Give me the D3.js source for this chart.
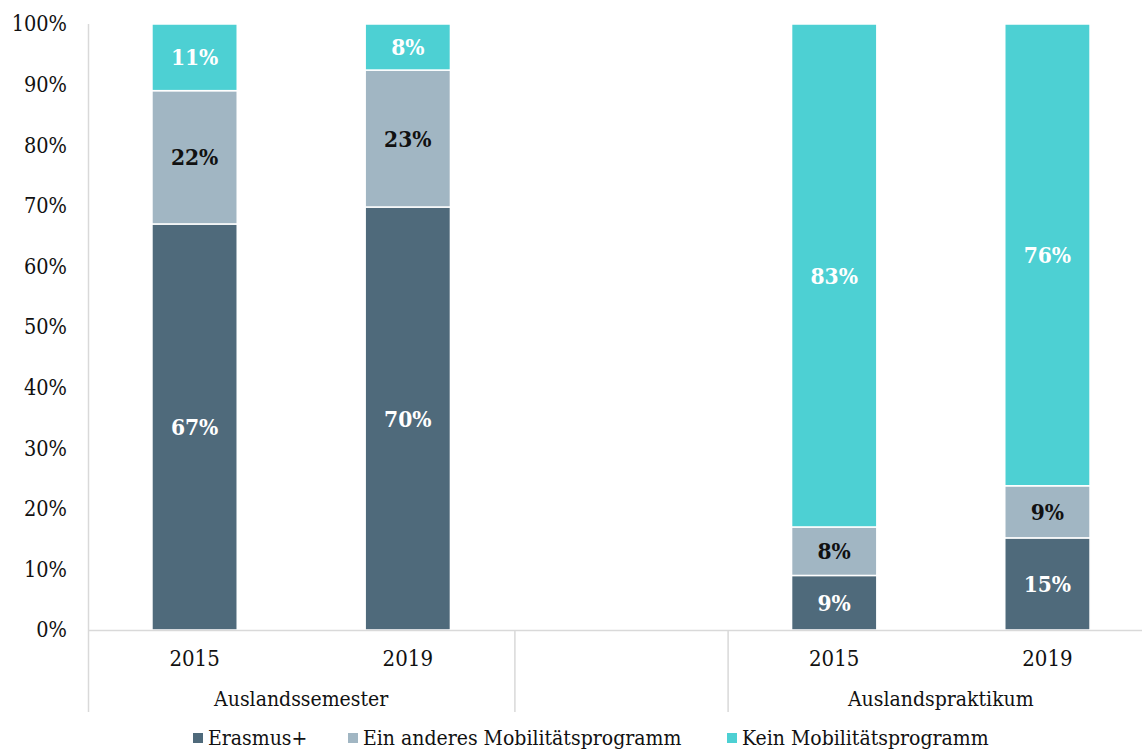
<!DOCTYPE html>
<html><head><meta charset="utf-8">
<script src="https://cdn.jsdelivr.net/npm/d3@7"></script>
<style>
body{margin:0;background:#fff;}
text{font-family:"DejaVu Serif Condensed","DejaVu Serif",serif;}
</style></head>
<body><svg id="c" width="1142" height="749"></svg>
<script>
const groups = ["Auslandssemester", "", "Auslandspraktikum"];
const slots = [
  {key:"s2015", group:"Auslandssemester", year:"2015"},
  {key:"s2019", group:"Auslandssemester", year:"2019"},
  {key:"blank", group:"", year:""},
  {key:"p2015", group:"Auslandspraktikum", year:"2015"},
  {key:"p2019", group:"Auslandspraktikum", year:"2019"}
];
const seriesNames = ["Erasmus+", "Ein anderes Mobilitätsprogramm", "Kein Mobilitätsprogramm"];
const erasmus = {s2015:67, s2019:69.8, p2015:9, p2019:15.2};
const anderes = {s2015:22, s2019:22.6, p2015:8, p2019:8.6};
const kein = {s2015:11, s2019:7.6, p2015:83, p2019:76.2};
const labels = {
  s2015:["67%","22%","11%"], s2019:["70%","23%","8%"],
  p2015:["9%","8%","83%"], p2019:["15%","9%","76%"]
};
const yTicks = [0,10,20,30,40,50,60,70,80,90,100];
const colors = ["#4F6A7B","#A1B6C3","#4DD0D3"];
const labelColors = ["#fff","#111","#fff"];

const svg = d3.select("#c");
const x = d3.scaleBand().domain(slots.map(d=>d.key)).range([88,1154]).paddingInner(0).paddingOuter(0);
const y = d3.scaleLinear().domain([0,100]).range([630,24]);
const bw = x.bandwidth()*0.4;

// y axis line
svg.append("line").attr("x1",88.5).attr("x2",88.5).attr("y1",24).attr("y2",712).attr("stroke","#d9d9d9").attr("stroke-width",1.5);
// y labels
const yAxis = d3.axisLeft(y).tickValues(yTicks).tickFormat(d=>d+"%").tickSize(0).tickPadding(0);
const ya = svg.append("g").attr("transform","translate(67,0)").call(yAxis);
ya.select(".domain").remove();
ya.selectAll("text").attr("font-size",21.5).attr("fill","#111").attr("font-family",'"DejaVu Serif Condensed","DejaVu Serif",serif');

// bars
const seriesData = [erasmus, anderes, kein];
slots.filter(s=>s.key!=="blank").forEach(s=>{
  let base = 0;
  seriesData.forEach((ser,i)=>{
    const v = ser[s.key];
    const x0 = x(s.key)+(x.bandwidth()-bw)/2;
    svg.append("rect").attr("x",x0).attr("width",bw)
      .attr("y",y(base+v)).attr("height",y(base)-y(base+v))
      .attr("fill",colors[i]).attr("stroke","#fff").attr("stroke-width",1.5);
    svg.append("text").attr("x",x0+bw/2).attr("y",y(base+v/2)).attr("dy","0.36em")
      .attr("text-anchor","middle").attr("font-size",22.5).attr("font-weight","bold")
      .attr("fill",labelColors[i]).text(labels[s.key][i]);
    base += v;
  });
});

// x axis line
svg.append("line").attr("x1",88).attr("x2",1142).attr("y1",630.5).attr("y2",630.5).attr("stroke","#d9d9d9").attr("stroke-width",1.5);
// year labels
slots.forEach(s=>{
  if(!s.year) return;
  svg.append("text").attr("x",x(s.key)+x.bandwidth()/2).attr("y",666).attr("text-anchor","middle")
    .attr("font-size",22).attr("fill","#111").text(s.year);
});
// group separators and labels
const sepKeys = ["blank","p2015"];
sepKeys.forEach(k=>{
  svg.append("line").attr("x1",x(k)+0.5).attr("x2",x(k)+0.5).attr("y1",630).attr("y2",712).attr("stroke","#d9d9d9").attr("stroke-width",1.5);
});
groups.forEach(g=>{
  if(!g) return;
  const ks = slots.filter(s=>s.group===g).map(s=>s.key);
  const cx = (x(ks[0]) + x(ks[ks.length-1])+x.bandwidth())/2;
  svg.append("text").attr("x",cx).attr("y",706).attr("text-anchor","middle")
    .attr("font-size",21).attr("fill","#111").text(g);
});

// legend
const legX = [193, 348, 727];
seriesNames.forEach((n,i)=>{
  svg.append("rect").attr("x",legX[i]).attr("y",733).attr("width",10).attr("height",10).attr("fill",colors[i]);
  svg.append("text").attr("x",legX[i]+15).attr("y",745).attr("font-size",21).attr("fill","#111").text(n);
});
</script></body></html>
